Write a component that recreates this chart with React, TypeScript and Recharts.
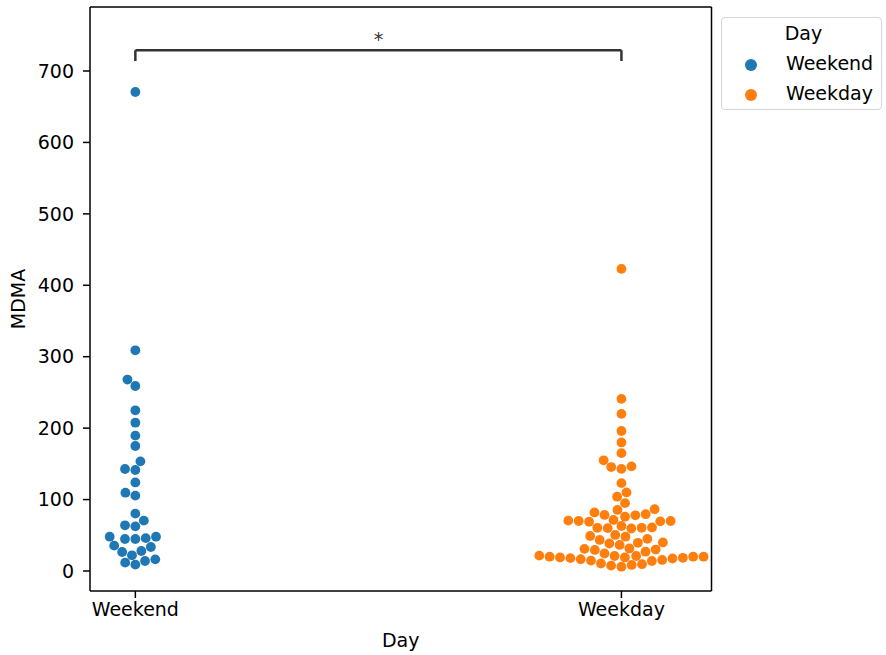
import React from 'react';
import { ScatterChart, Scatter, XAxis, YAxis, ReferenceLine } from 'recharts';

const categories = ['Weekend', 'Weekday'];
const colors = ['#1f77b4', '#ff7f0e'];

const weekendValues = [
  670.6, 309, 268, 259, 225, 207.6, 189.5, 175, 153.5, 142.8, 141.4, 124, 109.6,
  105.5, 80.3, 70.5, 64, 62.5, 48, 48, 46, 44.8, 44.8, 35.5, 33.6, 28, 26.6, 22,
  16.3, 14, 11.7, 8.9,
];

const weekdayValues = [
  423, 241, 220, 196, 180, 165, 155, 146.5, 145.5, 143, 123, 110, 104, 95,
  86.5, 85.5, 82, 79.5, 78.5, 78, 76,
  71.5, 70.5, 70, 70, 69.5, 69,
  63, 61, 60.5, 60.5, 60, 59.5,
  50.5, 49, 48, 45, 43.5, 40, 39.5, 38.5, 36.5,
  31.5, 31, 30, 29.5, 27, 24.5, 21.5, 20,
  21, 20, 19, 18.5, 17.5, 15.5, 14, 10.5, 7.5, 6, 8.5, 9.5, 14.5, 16.5, 18, 19,
  20, 21,
];

const yTicks = [0, 100, 200, 300, 400, 500, 600, 700];
const significance = '*';

// layout
const W = 886;
const H = 655;
const PLOT = { left: 90, right: 711.5, top: 7, bottom: 591 };
const X_DOMAIN: [number, number] = [-0.0933, 1.1853];
const Y_DOMAIN: [number, number] = [-28, 789.6];
const PX_PER_X = (PLOT.right - PLOT.left) / (X_DOMAIN[1] - X_DOMAIN[0]);
const PX_PER_Y = (PLOT.bottom - PLOT.top) / (Y_DOMAIN[1] - Y_DOMAIN[0]);
const R = 4.95; // collision radius in px
const DOT_R = 4.9;
const BRACKET_Y = 729;
const BRACKET_DROP = 15;
const FONT = 'DejaVu Sans, sans-serif';
const FS = 19;

type Pt = { x: number; y: number; v: number };

// seaborn-style beeswarm: place points in value order, nearest free slot to the midline
function beeswarm(values: number[], center: number) {
  const sorted = [...values].sort((a, b) => a - b);
  const swarm: Pt[] = [];
  for (const v of sorted) {
    const y = v * PX_PER_Y;
    const neighbors: Pt[] = [];
    for (let j = swarm.length - 1; j >= 0; j--) {
      if (y - swarm[j].y < 2 * R) neighbors.unshift(swarm[j]);
      else break;
    }
    const cands = [0];
    let leftFirst = true;
    for (const nb of neighbors) {
      const dy = y - nb.y;
      const dx = Math.sqrt(Math.max(4 * R * R - dy * dy, 0)) * 1.05;
      const cl = nb.x - dx;
      const cr = nb.x + dx;
      cands.push(...(leftFirst ? [cl, cr] : [cr, cl]));
      leftFirst = !leftFirst;
    }
    const ordered = cands
      .map((c, i) => ({ c, i }))
      .sort((a, b) => Math.abs(a.c) - Math.abs(b.c) || a.i - b.i);
    let x = ordered[0].c;
    for (const { c } of ordered) {
      const ok = neighbors.every(
        (nb) => (nb.x - c) ** 2 + (nb.y - y) ** 2 >= 4 * R * R - 1e-9,
      );
      if (ok) {
        x = c;
        break;
      }
    }
    swarm.push({ x, y, v });
  }
  return swarm.map((p) => ({ x: center + p.x / PX_PER_X, y: p.v }));
}

const weekendData = beeswarm(weekendValues, 0);
const weekdayData = beeswarm(weekdayValues, 1);

const dot = (color: string) => (props: any) => (
  <circle cx={props.cx} cy={props.cy} r={DOT_R} fill={color} />
);

function Legend() {
  return (
    <div
      style={{
        position: 'absolute',
        left: 721,
        top: 17,
        width: 161,
        height: 93,
        border: '1px solid #d5d5d5',
        borderRadius: 4,
        background: '#fff',
        fontFamily: FONT,
        fontSize: FS,
        color: '#000',
        boxSizing: 'border-box',
      }}
    >
      <div style={{ position: 'absolute', left: 0, right: 0, top: 4, textAlign: 'center', paddingLeft: 4 }}>
        Day
      </div>
      {categories.map((c, i) => (
        <div key={c} style={{ position: 'absolute', left: 0, top: 34 + i * 30, height: 24 }}>
          <span
            style={{
              position: 'absolute',
              left: 23,
              top: 7,
              width: 12,
              height: 12,
              borderRadius: '50%',
              background: colors[i],
            }}
          />
          <span style={{ position: 'absolute', left: 64, top: 0, whiteSpace: 'nowrap' }}>{c}</span>
        </div>
      ))}
    </div>
  );
}

export default function App() {
  const axisStroke = { stroke: '#000', strokeWidth: 1.5 };
  const tickStyle = { fontSize: FS, fill: '#000', fontFamily: FONT };
  return (
    <div style={{ position: 'absolute', left: 0, top: 0, width: W, height: H, background: '#fff' }}>
      <ScatterChart
        width={W}
        height={H}
        margin={{ top: PLOT.top, right: W - PLOT.right, bottom: 0, left: 0 }}
      >
        <XAxis
          type="number"
          dataKey="x"
          domain={X_DOMAIN}
          allowDataOverflow
          ticks={[0, 1]}
          tickFormatter={(v: number) => categories[Math.round(v)]}
          height={H - PLOT.bottom}
          tickSize={7}
          tickMargin={5}
          axisLine={axisStroke}
          tickLine={axisStroke}
          tick={tickStyle}
          label={{
            value: 'Day',
            position: 'insideBottom',
            offset: 8,
            style: { fontSize: FS, fill: '#000', fontFamily: FONT },
          }}
        />
        <YAxis
          type="number"
          dataKey="y"
          domain={Y_DOMAIN}
          allowDataOverflow
          ticks={yTicks}
          width={PLOT.left}
          tickSize={7}
          tickMargin={9}
          axisLine={axisStroke}
          tickLine={axisStroke}
          tick={tickStyle}
          label={{
            value: 'MDMA',
            angle: -90,
            position: 'insideLeft',
            offset: 18,
            style: { fontSize: FS, fill: '#000', fontFamily: FONT, textAnchor: 'middle' },
          }}
        />
        {/* top and right spines */}
        <ReferenceLine y={Y_DOMAIN[1]} stroke="#000" strokeWidth={1.5} />
        <ReferenceLine x={X_DOMAIN[1]} stroke="#000" strokeWidth={1.5} />

        <Scatter
          name={categories[0]}
          data={weekendData}
          fill={colors[0]}
          shape={dot(colors[0])}
          isAnimationActive={false}
        />
        <Scatter
          name={categories[1]}
          data={weekdayData}
          fill={colors[1]}
          shape={dot(colors[1])}
          isAnimationActive={false}
        />

        {/* significance bracket */}
        <ReferenceLine
          segment={[{ x: 0, y: BRACKET_Y - BRACKET_DROP }, { x: 0, y: BRACKET_Y }]}
          stroke="#333"
          strokeWidth={2.5}
        />
        <ReferenceLine
          segment={[{ x: 1, y: BRACKET_Y - BRACKET_DROP }, { x: 1, y: BRACKET_Y }]}
          stroke="#333"
          strokeWidth={2.5}
        />
        <ReferenceLine
          segment={[{ x: 0, y: BRACKET_Y }, { x: 1, y: BRACKET_Y }]}
          stroke="#333"
          strokeWidth={2.5}
          label={{
            value: significance,
            position: 'top',
            offset: 4,
            style: { fontSize: FS, fill: '#333', fontFamily: FONT },
          }}
        />
      </ScatterChart>
      <Legend />
    </div>
  );
}
